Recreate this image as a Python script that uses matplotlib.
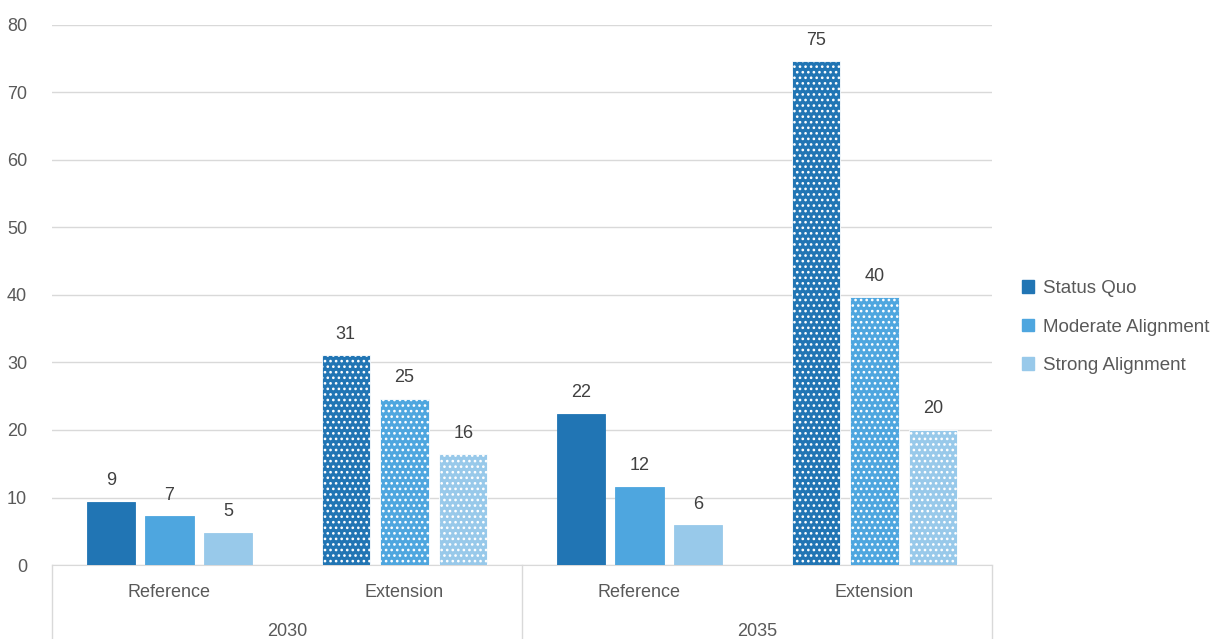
import numpy as np
import matplotlib
matplotlib.use("Agg")
import matplotlib.pyplot as plt
from matplotlib.patches import Patch

plt.rcParams['font.family'] = ['Liberation Sans', 'DejaVu Sans']
plt.rcParams['hatch.linewidth'] = 1.1

years = ['2030', '2035']
cases = ['Reference', 'Extension', 'Reference', 'Extension']
series = ['Status Quo', 'Moderate Alignment', 'Strong Alignment']
status_quo = [9.4, 31.1, 22.4, 74.6]
moderate = [7.2, 24.6, 11.6, 39.7]
strong = [4.8, 16.4, 5.9, 20.0]
colors = ['#2175B4', '#4EA6DF', '#98C9EA']

fig = plt.figure(figsize=(12.18, 6.39), dpi=100)
ax = fig.add_axes([0.0427, 0.1158, 0.7717, 0.8451])

x = np.arange(len(cases))
width = 0.205
offsets = [-0.25, 0, 0.25]
txt = '#595959'

for vals, off, c in zip([status_quo, moderate, strong], offsets, colors):
    for i, v in enumerate(vals):
        hatched = cases[i] == 'Extension'
        b = ax.bar(x[i] + off, v, width, color=c,
                   edgecolor='white' if hatched else c,
                   linewidth=0.6, hatch='...' if hatched else None, zorder=3)
        ax.bar_label(b, fmt='%.0f', padding=9, fontsize=13, color='#404040')

ax.set_ylim(0, 80)
ax.set_xlim(-0.5, 3.5)
ax.set_yticks(range(0, 81, 10))
ax.grid(axis='y', color='#D9D9D9', linewidth=1, zorder=0)
for s in ['top', 'right', 'left']:
    ax.spines[s].set_visible(False)
ax.spines['bottom'].set_color('#D9D9D9')
ax.tick_params(axis='y', length=0, labelsize=13, labelcolor=txt, pad=18)
ax.set_xticks(x)
ax.set_xticklabels(cases)
ax.tick_params(axis='x', length=0, labelsize=13, labelcolor=txt, pad=14)

trans = ax.get_xaxis_transform()
for sx in [-0.5, 1.5, 3.5]:
    ax.plot([sx, sx], [0, -0.14], transform=trans, color='#D9D9D9',
            linewidth=1, clip_on=False)
for yr, cx in zip(years, [0.5, 2.5]):
    ax.text(cx, -0.124, yr, transform=trans, ha='center', va='center',
            fontsize=13, color=txt)

handles = [Patch(facecolor=c, edgecolor=c) for c in colors]
fig.legend(handles, series, loc='center left', bbox_to_anchor=(0.839, 0.488),
           frameon=False, fontsize=13.5, labelcolor=txt, handlelength=0.64,
           handleheight=0.64, handletextpad=0.48, labelspacing=1.15,
           borderpad=0, borderaxespad=0)

fig.savefig('out.png', dpi=100)
